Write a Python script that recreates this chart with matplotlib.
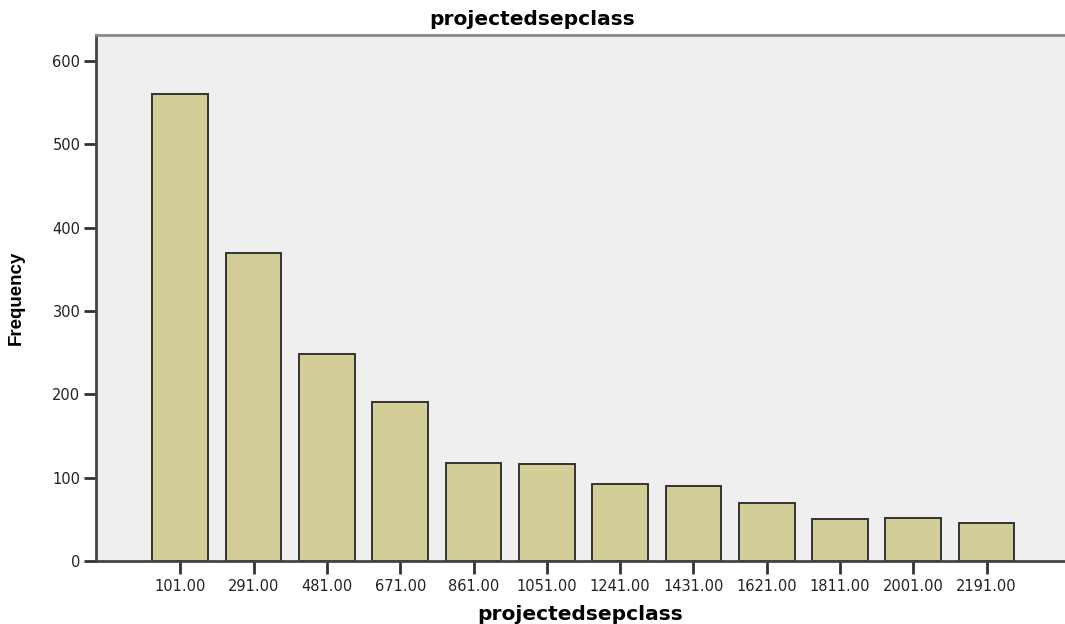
import matplotlib
matplotlib.use('Agg')
import matplotlib.pyplot as plt
import numpy as np

categories = ['101.00', '291.00', '481.00', '671.00', '861.00', '1051.00',
              '1241.00', '1431.00', '1621.00', '1811.00', '2001.00', '2191.00']
frequency = [561, 370, 249, 191, 118, 117, 93, 90, 70, 50, 51, 45]

fig = plt.figure(figsize=(10.65, 6.24), dpi=100)
ax = fig.add_axes([0.0899, 0.101, 0.9101, 0.8437])
ax.set_facecolor('#efefef')

x = np.arange(len(categories))
ax.bar(x, frequency, width=0.76, color='#d3ce97', edgecolor='#333333', linewidth=1.4)

ax.set_xlim(-1.154, 11 + 1.07)
ax.set_ylim(0, 632)
ax.set_yticks([0, 100, 200, 300, 400, 500, 600])
ax.set_xticks(x)
ax.set_xticklabels(categories)

for side in ['left', 'bottom']:
    ax.spines[side].set_color('#444444')
    ax.spines[side].set_linewidth(2)
ax.spines['top'].set_color('#888888')
ax.spines['top'].set_linewidth(2)
ax.spines['right'].set_visible(False)

ax.tick_params(axis='both', direction='out', length=9, width=2, color='#333333',
               labelsize=10.5, pad=2, labelcolor='#222222')
ax.tick_params(axis='x', pad=4)

ax.set_xlabel('projectedsepclass', fontsize=14.5, fontweight='bold', labelpad=8)
ax.set_ylabel('Frequency', fontsize=13.5, fontweight='bold', family='Liberation Sans', labelpad=20)
fig.text(0.5, 0.968, 'projectedsepclass', ha='center', va='center',
         fontsize=14.5, fontweight='bold')

fig.savefig('out.png', dpi=100)
